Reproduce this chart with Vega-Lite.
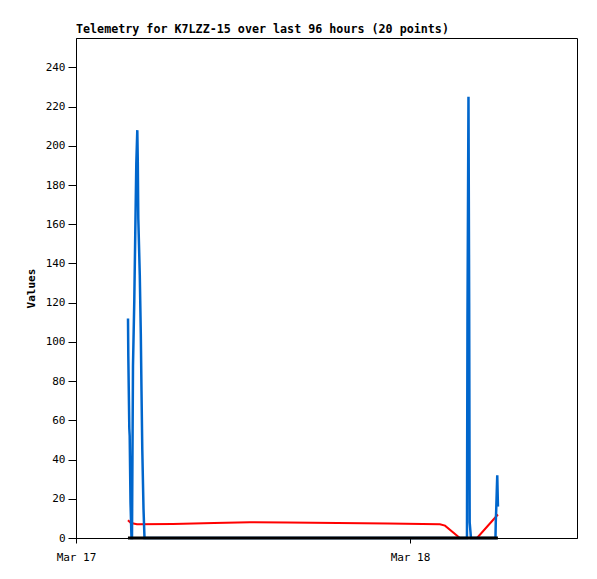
{
  "$schema": "https://vega.github.io/schema/vega-lite/v6.json",
  "width": 501,
  "height": 500,
  "autosize": {"type": "none"},
  "padding": {"left": 76, "top": 38, "right": 20, "bottom": 41},
  "background": "white",
  "config": {
    "view": {"stroke": "#000000", "strokeWidth": 1},
    "axis": {"labelFont": "DejaVu Sans Mono", "labelFontSize": 11, "labelColor": "#000000", "domainColor": "#000000", "tickColor": "#000000", "grid": false, "titleFont": "DejaVu Sans Mono", "titleFontWeight": "bold", "titleFontSize": 11, "titleColor": "#000000"}
  },
  "title": {"text": "Telemetry for K7LZZ-15 over last 96 hours (20 points)", "anchor": "start", "font": "DejaVu Sans Mono", "fontSize": 11.7, "fontWeight": "bold", "color": "#000000", "offset": 2, "frame": "group"},
  "datasets": {
    "red": [
      {"t": "2024-03-17T03:44:00", "v": 9},
      {"t": "2024-03-17T03:57:00", "v": 7.6},
      {"t": "2024-03-17T04:23:00", "v": 7},
      {"t": "2024-03-17T06:58:00", "v": 7.1},
      {"t": "2024-03-17T09:55:00", "v": 7.6},
      {"t": "2024-03-17T12:30:00", "v": 8},
      {"t": "2024-03-17T15:10:00", "v": 7.9},
      {"t": "2024-03-17T22:25:00", "v": 7.4},
      {"t": "2024-03-18T02:09:00", "v": 7},
      {"t": "2024-03-18T02:31:00", "v": 6.3},
      {"t": "2024-03-18T03:35:00", "v": 0},
      {"t": "2024-03-18T04:49:00", "v": 0},
      {"t": "2024-03-18T06:19:00", "v": 12}
    ],
    "blue": [
      {"t": "2024-03-17T03:44:12", "v": 112},
      {"t": "2024-03-17T03:45:30", "v": 93},
      {"t": "2024-03-17T03:49:48", "v": 56},
      {"t": "2024-03-17T03:51:30", "v": 52},
      {"t": "2024-03-17T03:55:00", "v": 18},
      {"t": "2024-03-17T03:59:18", "v": 0},
      {"t": "2024-03-17T04:01:24", "v": 0},
      {"t": "2024-03-17T04:05:42", "v": 88},
      {"t": "2024-03-17T04:11:18", "v": 121},
      {"t": "2024-03-17T04:15:36", "v": 156},
      {"t": "2024-03-17T04:20:00", "v": 191},
      {"t": "2024-03-17T04:24:18", "v": 208},
      {"t": "2024-03-17T04:26:24", "v": 192},
      {"t": "2024-03-17T04:28:36", "v": 163},
      {"t": "2024-03-17T04:35:00", "v": 134},
      {"t": "2024-03-17T04:39:24", "v": 104},
      {"t": "2024-03-17T04:42:24", "v": 75},
      {"t": "2024-03-17T04:45:48", "v": 45},
      {"t": "2024-03-17T04:51:00", "v": 15},
      {"t": "2024-03-17T04:55:18", "v": 0},
      {"t": "2024-03-18T04:05:36", "v": 0},
      {"t": "2024-03-18T04:07:48", "v": 112},
      {"t": "2024-03-18T04:12:06", "v": 225},
      {"t": "2024-03-18T04:15:06", "v": 120},
      {"t": "2024-03-18T04:17:18", "v": 8},
      {"t": "2024-03-18T04:22:54", "v": 0},
      {"t": "2024-03-18T06:08:30", "v": 0},
      {"t": "2024-03-18T06:09:48", "v": 8},
      {"t": "2024-03-18T06:11:54", "v": 15},
      {"t": "2024-03-18T06:14:06", "v": 24},
      {"t": "2024-03-18T06:16:12", "v": 32},
      {"t": "2024-03-18T06:19:12", "v": 16}
    ],
    "black": [
      {"t": "2024-03-17T03:44:00", "v": 0},
      {"t": "2024-03-17T12:00:00", "v": 0},
      {"t": "2024-03-18T00:00:00", "v": 0},
      {"t": "2024-03-18T06:19:00", "v": 0}
    ]
  },
  "encoding": {
    "x": {"field": "t", "type": "temporal",
      "scale": {"domain": [{"year": 2024, "month": 3, "date": 17}, {"year": 2024, "month": 3, "date": 18, "hours": 12}], "nice": false},
      "axis": {"title": null, "format": "%b %d", "values": [{"year": 2024, "month": 3, "date": 17}, {"year": 2024, "month": 3, "date": 18}], "tickSize": 5, "labelPadding": 8, "labelAlign": "center", "labelFlush": false}},
    "y": {"field": "v", "type": "quantitative",
      "scale": {"domain": [0, 255], "nice": false, "zero": true},
      "axis": {"title": "Values", "values": [0, 20, 40, 60, 80, 100, 120, 140, 160, 180, 200, 220, 240], "tickSize": 8, "labelPadding": 3, "titlePadding": 9}}
  },
  "layer": [
    {"data": {"name": "red"}, "mark": {"type": "line", "color": "#ff0000", "strokeWidth": 2}},
    {"data": {"name": "blue"}, "mark": {"type": "line", "color": "#0066cc", "strokeWidth": 2.5}},
    {"data": {"name": "black"}, "mark": {"type": "line", "color": "#000000", "strokeWidth": 3}}
  ]
}
